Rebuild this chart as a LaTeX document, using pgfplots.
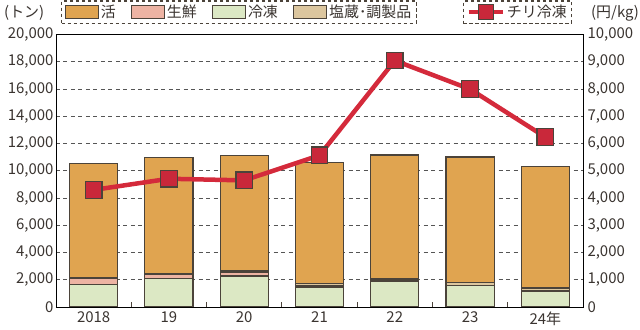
\documentclass[border=0pt]{standalone}
\usepackage{fontspec}
\setmainfont{Noto Sans CJK JP}
\usepackage{pgfplots}
\pgfplotsset{compat=1.18}
\definecolor{cOrange}{HTML}{E0A450}
\definecolor{cPink}{HTML}{EDB3A3}
\definecolor{cGreen}{HTML}{DCE8C4}
\definecolor{cBeige}{HTML}{DCC69E}
\definecolor{axiscol}{HTML}{4B433A}
\definecolor{gridcol}{HTML}{555555}
\definecolor{textcol}{HTML}{3A3430}
\definecolor{redline}{HTML}{D42A3B}
\definecolor{redmark}{HTML}{C9283A}
\begin{document}
\begin{tikzpicture}
\begin{axis}[width=527bp, height=272.3bp, scale only axis, at={(0bp,0bp)}, anchor=south west,
  xmin=-0.5, xmax=6.5, ymin=0, ymax=20000, scaled y ticks=false,
  ybar stacked, bar width=0.64,
  xtick={0,1,2,3,4,5,6}, xticklabels={2018,19,20,21,22,23,24年},
  minor x tick num=1,
  ytick={0,2000,...,20000},
  ymajorgrids=true,
  major grid style={draw=gridcol, line width=0.9bp, dash pattern=on 4bp off 3.5bp},
  major tick length=0pt, minor tick length=5bp, tick align=inside,
  xtick pos=bottom, ytick pos=left,
  minor tick style={draw=axiscol, line width=1.2bp},
  tick label style={font=\fontsize{15}{15}\selectfont, text=textcol},
  yticklabel style={/pgf/number format/1000 sep={,}, /pgf/number format/assume math mode=true, xshift=1bp},
  xticklabel style={yshift=-1bp},
  legend style={at={(0.0095,1.04)}, anchor=south west, draw=axiscol, dash pattern=on 3.5bp off 2.5bp,
    line width=1.3bp, font=\fontsize{15}{15}\selectfont, text=textcol, inner xsep=3bp, inner ysep=2bp,
    /tikz/every even column/.append style={column sep=13bp}},
  legend cell align=left,
  legend columns=4,
  legend image code/.code={\draw[#1, solid, line width=1.2bp] (0bp,-6.5bp) rectangle (33bp,7bp);},
]
\addplot[forget plot, fill=cGreen, draw=axiscol, line width=1.2bp] coordinates {(0,1650) (1,2070) (2,2270) (3,1420) (4,1850) (5,1560) (6,1150)};
\addplot[forget plot, fill=cPink, draw=axiscol, line width=1.2bp] coordinates {(0,470) (1,350) (2,250) (3,120) (4,130) (5,40) (6,30)};
\addplot[forget plot, fill=cBeige, draw=axiscol, line width=1.2bp] coordinates {(0,50) (1,50) (2,120) (3,200) (4,120) (5,180) (6,220)};
\addplot[forget plot, fill=cOrange, draw=axiscol, line width=1.2bp] coordinates {(0,8380) (1,8500) (2,8500) (3,8860) (4,9060) (5,9230) (6,8930)};
\addlegendimage{fill=cOrange, draw=axiscol}
\addlegendentry{活}
\addlegendimage{fill=cPink, draw=axiscol}
\addlegendentry{生鮮}
\addlegendimage{fill=cGreen, draw=axiscol}
\addlegendentry{冷凍}
\addlegendimage{fill=cBeige, draw=axiscol}
\addlegendentry{塩蔵･調製品}
\end{axis}
\begin{axis}[width=527bp, height=272.3bp, scale only axis, at={(0bp,0bp)}, anchor=south west,
  xmin=-0.5, xmax=6.5, ymin=0, ymax=10000, scaled y ticks=false,
  axis y line*=right, axis x line=none,
  ytick={0,1000,...,10000},
  major tick length=0pt,
  tick label style={font=\fontsize{15}{15}\selectfont, text=textcol},
  yticklabel style={/pgf/number format/1000 sep={,}, /pgf/number format/assume math mode=true, xshift=1bp},
  legend style={at={(0.772,1.04)}, anchor=south west, draw=axiscol, dash pattern=on 3.5bp off 2.5bp,
    line width=1.3bp, font=\fontsize{15}{15}\selectfont, text=textcol, inner xsep=3bp, inner ysep=2bp},
  legend cell align=left,
  legend image code/.code={\draw[redline, solid, line width=4.5bp] (0bp,0bp) -- (34bp,0bp);
    \draw[solid, fill=redmark, draw=axiscol, line width=1.2bp] (9.5bp,-7.5bp) rectangle (24.5bp,7.5bp);},
]
\addplot[redline, line width=4.5bp, mark=square*, mark size=8.3bp,
  mark options={fill=redmark, draw=axiscol, line width=1.2bp, solid}]
  coordinates {(0,4300) (1,4710) (2,4650) (3,5570) (4,9050) (5,8000) (6,6240)};
\addlegendentry{チリ冷凍}
\end{axis}
\node[anchor=west, text=textcol, font=\fontsize{15}{15}\selectfont, inner sep=0pt] at (-52bp,294bp) {(トン)};
\node[anchor=east, text=textcol, font=\fontsize{15}{15}\selectfont, inner sep=0pt] at (583bp,294bp) {(円/kg)};
\path (-56bp,-23bp) rectangle (584bp,307bp);
\end{tikzpicture}
\end{document}
